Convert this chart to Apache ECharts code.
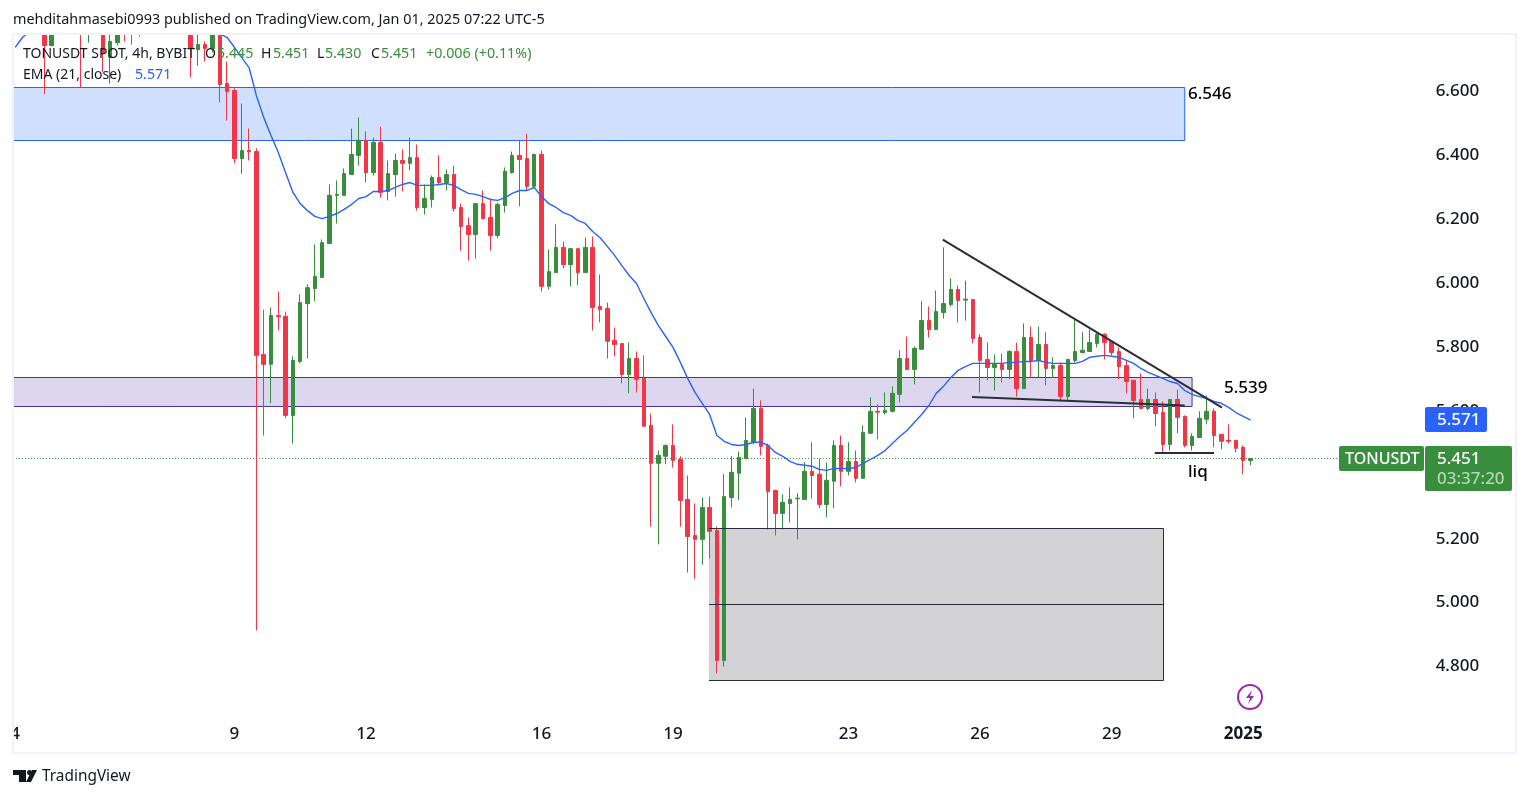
<!DOCTYPE html>
<html>
<head>
<meta charset="utf-8">
<title>TONUSDT 4h</title>
<style>
html, body { margin: 0; padding: 0; background: #fff; }
#main { width: 1529px; height: 798px; }
</style>
<script src="https://cdn.jsdelivr.net/npm/echarts@6/dist/echarts.min.js"></script>
</head>
<body>
<div id="main"></div>
<script>
// 4h candles, first one is Dec 4 00:00. The first ~28 sit above the visible pane so those are estimates
const opens = [
    6.84,6.90,6.95,6.98,6.94,6.744,6.88,6.95,6.87,6.82,
    6.80,6.86,6.84,6.706,6.753,6.84,6.82,6.79,6.83,6.88,
    6.92,6.86,6.83,6.89,6.84,6.731,6.747,6.735,6.82,6.625,
    6.603,6.390,6.415,6.412,5.777,5.746,5.899,5.896,5.586,5.755,
    5.936,5.983,6.018,6.124,6.275,6.275,6.340,6.400,6.447,6.346,
    6.440,6.287,6.340,6.384,6.375,6.393,6.237,6.262,6.331,6.315,
    6.340,6.237,6.180,6.152,6.249,6.206,6.149,6.243,6.346,6.400,
    6.390,6.303,6.403,5.990,6.033,6.112,6.058,6.108,6.033,6.112,
    5.927,5.921,5.821,5.811,5.714,5.764,5.702,5.555,5.436,5.458,
    5.492,5.448,5.323,5.210,5.198,5.298,5.226,4.819,5.329,5.405,
    5.451,5.502,5.608,5.492,5.351,5.279,5.310,5.325,5.323,5.411,
    5.402,5.307,5.380,5.492,5.411,5.442,5.389,5.530,5.599,5.595,
    5.599,5.652,5.764,5.730,5.793,5.883,5.855,5.908,5.933,5.980,
    5.947,5.949,5.830,5.761,5.736,5.746,5.730,5.786,5.670,5.830,
    5.758,5.808,5.733,5.742,5.645,5.758,5.783,5.786,5.811,5.840,
    5.818,5.786,5.742,5.696,5.636,5.608,5.636,5.595,5.495,5.636,
    5.583,5.492,5.517,5.574,5.599,5.527,5.508,5.508,5.486,5.445
];
const closes = [
    6.90,6.95,6.98,6.94,6.744,6.88,6.95,6.87,6.82,6.79,
    6.86,6.81,6.722,6.757,6.80,6.80,6.79,6.83,6.88,6.92,
    6.86,6.83,6.89,6.84,6.735,6.747,6.735,6.82,6.622,6.600,
    6.390,6.415,6.411,5.774,5.746,5.899,5.895,5.586,5.758,5.939,
    5.986,6.021,6.127,6.275,6.278,6.343,6.403,6.447,6.346,6.440,
    6.284,6.343,6.384,6.375,6.393,6.237,6.265,6.331,6.315,6.340,
    6.234,6.177,6.152,6.249,6.202,6.149,6.246,6.350,6.400,6.387,
    6.303,6.403,5.990,6.036,6.112,6.058,6.108,6.033,6.112,5.924,
    5.917,5.818,5.808,5.714,5.764,5.699,5.552,5.436,5.461,5.492,
    5.445,5.320,5.207,5.198,5.298,5.223,4.819,5.332,5.408,5.455,
    5.508,5.608,5.489,5.348,5.279,5.314,5.323,5.327,5.411,5.398,
    5.307,5.383,5.492,5.411,5.442,5.389,5.533,5.599,5.596,5.602,
    5.655,5.764,5.730,5.796,5.883,5.855,5.911,5.936,5.980,5.946,
    5.950,5.827,5.758,5.736,5.746,5.730,5.786,5.670,5.830,5.758,
    5.808,5.733,5.742,5.645,5.761,5.786,5.790,5.814,5.840,5.814,
    5.783,5.739,5.692,5.633,5.608,5.636,5.592,5.495,5.636,5.580,
    5.492,5.520,5.577,5.599,5.523,5.505,5.505,5.483,5.445,5.451
];
const highs = [
    6.93,6.98,7.02,7.05,6.99,6.92,6.99,6.98,6.92,6.89,
    6.90,6.90,6.88,6.80,6.84,6.87,6.86,6.87,6.90,6.95,
    6.96,6.90,6.92,6.93,6.88,6.80,6.757,6.85,6.85,6.694,
    6.61,6.562,6.484,6.422,5.917,5.924,5.974,5.911,5.771,5.965,
    5.996,6.121,6.137,6.309,6.321,6.359,6.484,6.519,6.475,6.456,
    6.490,6.384,6.406,6.419,6.456,6.434,6.309,6.337,6.400,6.356,
    6.368,6.249,6.206,6.249,6.290,6.265,6.252,6.362,6.412,6.447,
    6.468,6.406,6.415,6.105,6.184,6.130,6.110,6.110,6.143,6.146,
    6.027,5.939,5.861,5.811,5.814,5.786,5.774,5.592,5.476,5.495,
    5.558,5.458,5.398,5.310,5.329,5.332,5.238,5.402,5.458,5.473,
    5.580,5.670,5.633,5.498,5.354,5.339,5.361,5.342,5.439,5.502,
    5.451,5.439,5.508,5.523,5.502,5.476,5.555,5.642,5.620,5.658,
    5.677,5.790,5.833,5.802,5.943,5.927,5.977,6.112,6.015,5.993,
    6.008,5.949,5.840,5.814,5.777,5.780,5.790,5.814,5.874,5.864,
    5.864,5.846,5.768,5.752,5.764,5.886,5.846,5.855,5.846,5.843,
    5.821,5.799,5.761,5.696,5.717,5.670,5.658,5.630,5.636,5.667,
    5.586,5.530,5.599,5.648,5.608,5.527,5.558,5.508,5.492,5.451
];
const lows = [
    6.80,6.86,6.90,6.92,6.592,6.741,6.83,6.84,6.80,6.613,
    6.753,6.79,6.660,6.625,6.744,6.757,6.747,6.772,6.80,6.85,
    6.84,6.81,6.80,6.82,6.644,6.681,6.694,6.722,6.566,6.509,
    6.375,6.343,6.384,4.913,5.523,5.624,5.852,5.577,5.498,5.749,
    5.764,5.943,6.018,6.124,6.187,6.275,6.340,6.368,6.315,6.337,
    6.268,6.259,6.271,6.287,6.353,6.227,6.215,6.237,6.309,6.290,
    6.224,6.102,6.071,6.077,6.199,6.102,6.140,6.221,6.343,6.240,
    6.290,6.296,5.974,5.980,6.033,6.046,5.990,5.993,6.033,5.852,
    5.877,5.764,5.771,5.686,5.655,5.658,5.552,5.238,5.182,5.433,
    5.423,5.238,5.094,5.075,5.119,5.138,4.778,4.800,5.298,5.320,
    5.451,5.495,5.461,5.229,5.210,5.229,5.251,5.198,5.323,5.326,
    5.295,5.267,5.295,5.364,5.398,5.376,5.389,5.530,5.511,5.589,
    5.595,5.627,5.730,5.683,5.793,5.830,5.855,5.889,5.927,5.877,
    5.883,5.811,5.658,5.696,5.664,5.689,5.699,5.645,5.670,5.705,
    5.705,5.680,5.705,5.630,5.633,5.752,5.780,5.786,5.799,5.761,
    5.774,5.699,5.655,5.577,5.605,5.602,5.552,5.467,5.476,5.530,
    5.486,5.476,5.517,5.558,5.486,5.480,5.498,5.470,5.402,5.430
];
const ema21 = [
    6.738,6.769,6.79,6.80,6.81,6.82,6.83,6.84,6.85,6.85,
    6.85,6.85,6.85,6.85,6.85,6.85,6.85,6.85,6.85,6.85,
    6.85,6.85,6.84,6.84,6.83,6.82,6.81,6.80,6.781,6.769,
    6.738,6.706,6.675,6.587,6.519,6.462,6.409,6.346,6.284,6.249,
    6.227,6.209,6.202,6.209,6.218,6.231,6.246,6.265,6.271,6.287,
    6.287,6.290,6.300,6.309,6.315,6.306,6.306,6.306,6.309,6.312,
    6.306,6.293,6.281,6.278,6.271,6.262,6.259,6.268,6.281,6.290,
    6.290,6.300,6.271,6.249,6.237,6.221,6.212,6.196,6.187,6.162,
    6.143,6.115,6.087,6.055,6.024,5.999,5.952,5.908,5.867,5.833,
    5.799,5.752,5.702,5.658,5.624,5.589,5.523,5.505,5.495,5.492,
    5.495,5.502,5.502,5.492,5.470,5.458,5.442,5.433,5.430,5.427,
    5.417,5.414,5.420,5.420,5.420,5.423,5.436,5.448,5.461,5.476,
    5.498,5.520,5.539,5.564,5.589,5.617,5.655,5.677,5.705,5.727,
    5.739,5.749,5.749,5.749,5.749,5.749,5.752,5.752,5.755,5.755,
    5.758,5.752,5.749,5.749,5.749,5.749,5.755,5.768,5.771,5.774,
    5.771,5.768,5.758,5.749,5.733,5.721,5.711,5.702,5.692,5.686,
    5.664,5.652,5.645,5.639,5.630,5.624,5.611,5.595,5.583,5.571
];

// axis ticks
const timeTickIndex = [0, 30, 48, 72, 90, 114, 132, 150, 168];
const timeTickLabels = ['4', '9', '12', '16', '19', '23', '26', '29', '2025'];
const priceTicks = [4.8, 5.0, 5.2, 5.4, 5.6, 5.8, 6.0, 6.2, 6.4, 6.6];

// drawn zones: [candle index left, candle index right, price top, price bottom]
const supplyZone = [-0.5, 160.0, 6.6125, 6.4466];
const midZone = [-0.5, 161, 5.7046, 5.6139];
const demandZone = [94.9, 157.09, 5.2319, 4.7561];
const demandMid = 4.994;

// drawn lines: [candle index, price]
const trendDown = [[126.9, 6.1366], [165.1, 5.6107]];
const trendBase = [[130.9, 5.6436], [160.0, 5.6170]];
const liqLine = [[155.9, 5.4683], [164.0, 5.4683]];

const lastPrice = 5.451;
const lastEma = 5.571;

const GREEN = '#388e3c';
const RED = '#f23645';
const BLUE = '#2962ff';
const INK = '#131722';
const DARK = '#2a2e39';
const FONT = '"Noto Sans", sans-serif';

const BAND = 7.31;      // px per candle
const BANDS = 194;      // candles + empty space on the right
const GRID_LEFT = 11.5;

let candleData = opens.map((o, i) => [o, closes[i], lows[i], highs[i]]);
let categories = [];
for (let i = 0; i < BANDS; i++) {
    categories.push(String(i));
}

function zoneArea(zone, fill, border) {
    return [{
        xAxis: zone[0],
        yAxis: zone[2],
        itemStyle: { color: fill, borderColor: border, borderWidth: border ? 1 : 0, opacity: 1 }
    }, {
        xAxis: zone[1],
        yAxis: zone[3]
    }];
}

function edge(x0, y0, x1, y1) {
    return [{ xAxis: x0, yAxis: y0 }, { xAxis: x1, yAxis: y1 }];
}

function drawnLine(name, points) {
    return {
        name: name,
        type: 'line',
        xAxisIndex: 1,
        yAxisIndex: 0,
        data: points,
        symbol: 'none',
        silent: true,
        z: 6,
        lineStyle: { color: DARK, width: 2 }
    };
}

function txt(text, x, y, size, color, extra) {
    return {
        type: 'text',
        z: 100,
        silent: true,
        style: Object.assign({
            text: text,
            x: x,
            y: y,
            fill: color,
            fontSize: size,
            fontFamily: FONT,
            verticalAlign: 'middle',
            align: 'left'
        }, extra || {})
    };
}

function box(x, y, w, h, fill, r) {
    return {
        type: 'rect',
        z: 99,
        silent: true,
        shape: { x: x, y: y, width: w, height: h, r: r || 0 },
        style: { fill: fill }
    };
}

const MEDIUM = { fontWeight: 500 };

let graphics = [
    // candles are not clipped by the grid, so cover what sticks out above and left of the pane
    box(0, 0, 1529, 34, '#ffffff'),
    box(0, 34, 13, 720, '#ffffff'),
    {
        type: 'rect', z: 99, silent: true,
        shape: { x: 13, y: 34, width: 1503, height: 719 },
        style: { fill: 'none', stroke: '#f0f3fa', lineWidth: 2 }
    },
    txt('mehditahmasebi0993 published on TradingView.com, Jan 01, 2025 07:22 UTC-5', 13, 20, 14.4, INK),
    txt('TONUSDT SPOT, 4h, BYBIT', 23, 54, 14, INK),
    txt('O', 205, 54, 14, INK),
    txt('5.445', 217, 54, 14.2, GREEN),
    txt('H', 261, 54, 14, INK),
    txt('5.451', 273, 54, 14.2, GREEN),
    txt('L', 317, 54, 14, INK),
    txt('5.430', 325, 54, 14.2, GREEN),
    txt('C', 371, 54, 14, INK),
    txt('5.451', 381, 54, 14.2, GREEN),
    txt('+0.006 (+0.11%)', 426, 54, 14.3, GREEN),
    txt('EMA (21, close)', 23, 75, 14, INK),
    txt('5.571', 135, 75, 14.2, BLUE),
    txt('6.546', 1188, 94, 17, '#000000', MEDIUM),
    txt('5.539', 1224, 388, 17, '#000000', MEDIUM),
    txt('liq', 1188, 472, 17, '#000000', MEDIUM),
    // price tags
    box(1425, 407, 62, 25, BLUE, 2),
    txt(String(lastEma.toFixed(3)), 1437, 420, 17, '#ffffff', MEDIUM),
    box(1339, 446, 85, 25, GREEN, 2),
    txt('TONUSDT', 1345, 459, 16, '#ffffff', MEDIUM),
    box(1425, 446, 87, 45, GREEN, 2),
    txt(String(lastPrice.toFixed(3)), 1437, 459, 17, '#ffffff', MEDIUM),
    txt('03:37:20', 1437, 479, 17, '#b5d6b7', MEDIUM),
    // lightning badge
    {
        type: 'circle', z: 99, silent: true,
        shape: { cx: 1250, cy: 697, r: 12 },
        style: { fill: '#ffffff', stroke: '#9c27b0', lineWidth: 2 }
    },
    {
        type: 'polygon', z: 100, silent: true,
        shape: { points: [[1252, 690], [1246, 698], [1250, 698], [1248, 704], [1254, 696], [1250, 696]] },
        style: { fill: '#9c27b0' }
    },
    // TradingView logo
    {
        type: 'polygon', z: 100, silent: true,
        shape: { points: [[13, 770], [26, 770], [26, 782], [19, 782], [19, 775], [13, 775]] },
        style: { fill: INK }
    },
    { type: 'circle', z: 100, silent: true, shape: { cx: 29.5, cy: 772.5, r: 2.5 }, style: { fill: INK } },
    {
        type: 'polygon', z: 100, silent: true,
        shape: { points: [[32, 770], [37, 770], [31, 782], [26, 782]] },
        style: { fill: INK }
    },
    txt('TradingView', 42, 777, 15.4, INK)
];

let myChart = echarts.init(document.getElementById('main'), null, { renderer: 'canvas' });

let option = {
    animation: false,
    backgroundColor: '#ffffff',
    grid: {
        left: GRID_LEFT,
        top: 34.5,
        width: BAND * BANDS,
        height: 686,
        containLabel: false
    },
    xAxis: [{
        type: 'category',
        data: categories,
        boundaryGap: true,
        axisLine: { show: false },
        axisTick: { show: false },
        splitLine: { show: false },
        axisLabel: {
            margin: 5,
            color: INK,
            fontSize: 17,
            fontWeight: 500,
            fontFamily: FONT,
            hideOverlap: false,
            showMinLabel: true,
            interval: function (index) {
                return timeTickIndex.indexOf(index) !== -1;
            },
            formatter: function (value, index) {
                let k = timeTickIndex.indexOf(index);
                if (k === -1) return '';
                let label = timeTickLabels[k];
                return label === '2025' ? '{b|2025}' : label;
            },
            rich: {
                b: { fontWeight: 'bold', fontSize: 17, color: INK, fontFamily: FONT }
            }
        }
    }, {
        // same span as the category axis, used for the hand drawn lines and zones
        type: 'value',
        show: false,
        min: -0.5,
        max: BANDS - 0.5,
        splitLine: { show: false }
    }],
    yAxis: {
        type: 'value',
        position: 'right',
        min: 6.6 - 629 / 319.44,
        max: 6.6 + 57 / 319.44,
        scale: true,
        axisLine: { show: false },
        axisTick: { show: false },
        splitLine: { show: false },
        axisLabel: {
            margin: 6,
            color: INK,
            fontSize: 17,
            fontWeight: 500,
            fontFamily: FONT,
            customValues: priceTicks,
            formatter: function (v) {
                return v.toFixed(3);
            }
        }
    },
    series: [{
        name: 'zones',
        type: 'line',
        xAxisIndex: 1,
        yAxisIndex: 0,
        data: [],
        symbol: 'none',
        silent: true,
        z: 1,
        markArea: {
            silent: true,
            data: [
                zoneArea(supplyZone, '#d1dffe', BLUE),
                zoneArea(midZone, '#dcd7ee', '#4a2ea8'),
                zoneArea(demandZone, '#d3d3d5', null)
            ]
        },
        // grey box has no line on its left side in the reference
        markLine: {
            silent: true,
            symbol: 'none',
            label: { show: false },
            lineStyle: { color: DARK, width: 1, type: 'solid' },
            data: [
                edge(demandZone[0], demandMid, demandZone[1], demandMid),
                edge(demandZone[0], demandZone[2], demandZone[1], demandZone[2]),
                edge(demandZone[0], demandZone[3], demandZone[1], demandZone[3]),
                edge(demandZone[1], demandZone[2], demandZone[1], demandZone[3])
            ]
        }
    }, {
        name: 'last',
        type: 'line',
        xAxisIndex: 1,
        yAxisIndex: 0,
        data: [[-0.3, lastPrice], [181.2, lastPrice]],
        symbol: 'none',
        silent: true,
        z: 1,
        lineStyle: { color: GREEN, width: 1, type: [1, 2] }
    }, {
        name: 'TONUSDT',
        type: 'candlestick',
        xAxisIndex: 0,
        yAxisIndex: 0,
        data: candleData,
        barWidth: 4,
        z: 3,
        itemStyle: {
            color: GREEN,
            color0: RED,
            borderColor: GREEN,
            borderColor0: RED,
            borderWidth: 1
        }
    }, {
        name: 'EMA',
        type: 'line',
        xAxisIndex: 0,
        yAxisIndex: 0,
        data: ema21,
        symbol: 'none',
        silent: true,
        z: 5,
        lineStyle: { color: BLUE, width: 1.4 }
    },
    drawnLine('trend', trendDown),
    drawnLine('base', trendBase),
    drawnLine('liq', liqLine)],
    graphic: { elements: graphics }
};

myChart.setOption(option);
window.addEventListener('resize', function () {
    setTimeout(function () {
        myChart.resize();
    }, 100);
});
</script>
</body>
</html>
